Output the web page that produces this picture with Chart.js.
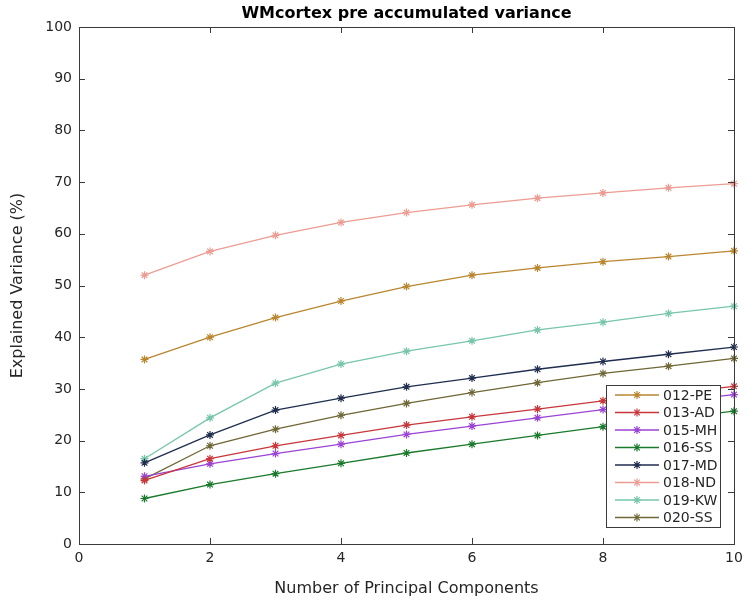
<!DOCTYPE html>
<html>
<head>
<meta charset="utf-8">
<script src="https://cdn.jsdelivr.net/npm/chart.js@4.4.1/dist/chart.umd.min.js"></script>
<style>
  html, body { margin: 0; padding: 0; background: #fff; }
  #wrap { width: 746px; height: 601px; }
</style>
</head>
<body>
<div id="wrap"><canvas id="c" width="746" height="601"></canvas></div>
<script>
// Number of principal components on the x axis
const components = [1, 2, 3, 4, 5, 6, 7, 8, 9, 10];

// Accumulated explained variance (%) per subject
const pe012 = [35.7, 40.0, 43.8, 47.0, 49.8, 52.0, 53.4, 54.6, 55.6, 56.7];
const ad013 = [12.3, 16.5, 19.0, 21.0, 23.0, 24.6, 26.1, 27.7, 29.1, 30.5];
const mh015 = [13.1, 15.5, 17.5, 19.3, 21.2, 22.8, 24.4, 26.0, 27.5, 28.9];
const ss016 = [8.8, 11.5, 13.6, 15.6, 17.6, 19.3, 21.0, 22.7, 24.2, 25.7];
const md017 = [15.7, 21.1, 25.9, 28.2, 30.4, 32.1, 33.8, 35.3, 36.7, 38.1];
const nd018 = [52.0, 56.6, 59.7, 62.2, 64.1, 65.6, 66.9, 67.9, 68.9, 69.7];
const kw019 = [16.5, 24.4, 31.1, 34.8, 37.3, 39.3, 41.4, 42.9, 44.6, 46.0];
const ss020 = [12.6, 19.0, 22.2, 24.9, 27.2, 29.3, 31.2, 33.0, 34.4, 35.9];

const seriesLabels = ['012-PE', '013-AD', '015-MH', '016-SS', '017-MD', '018-ND', '019-KW', '020-SS'];
const seriesValues = [pe012, ad013, mh015, ss016, md017, nd018, kw019, ss020];
const seriesColors = ['#b9862f', '#c9363a', '#9a43d4', '#1a7a2b', '#1f2d4f', '#ec9c92', '#77c6aa', '#6f6736'];

const xTicks = [0, 2, 4, 6, 8, 10];
const yTicks = [0, 10, 20, 30, 40, 50, 60, 70, 80, 90, 100];

const FONT = 'DejaVu Sans';
const AXIS = '#3a3a3a';
const TEXT = '#262626';

const datasets = seriesLabels.map((lab, i) => ({
  label: lab,
  data: components.map((c, j) => ({ x: c, y: seriesValues[i][j] })),
  borderColor: seriesColors[i],
  backgroundColor: seriesColors[i],
  borderWidth: 1.3,
  pointStyle: 'star',
  pointRadius: 4,
  pointBorderWidth: 1.2,
  pointHoverRadius: 4,
  tension: 0,
  fill: false,
  clip: false
}));

// Box around the plot area with inward ticks on all four sides, plus title and legend
const boxPlugin = {
  id: 'boxTicks',
  afterDraw(chart) {
    const { ctx, chartArea: a, scales } = chart;
    ctx.save();
    ctx.strokeStyle = AXIS;
    ctx.lineWidth = 1;
    ctx.strokeRect(Math.round(a.left) + 0.5, Math.round(a.top) + 0.5,
                   Math.round(a.right - a.left), Math.round(a.bottom - a.top));
    const L = 6;
    ctx.beginPath();
    xTicks.forEach(v => {
      const px = Math.round(scales.x.getPixelForValue(v)) + 0.5;
      ctx.moveTo(px, a.bottom); ctx.lineTo(px, a.bottom - L);
      ctx.moveTo(px, a.top); ctx.lineTo(px, a.top + L);
    });
    yTicks.forEach(v => {
      const py = Math.round(scales.y.getPixelForValue(v)) + 0.5;
      ctx.moveTo(a.left, py); ctx.lineTo(a.left + L, py);
      ctx.moveTo(a.right, py); ctx.lineTo(a.right - L, py);
    });
    ctx.stroke();

    // Title
    ctx.fillStyle = '#000';
    ctx.font = 'bold 16px "' + FONT + '"';
    ctx.textAlign = 'center';
    ctx.textBaseline = 'middle';
    ctx.fillText('WMcortex pre accumulated variance', (a.left + a.right) / 2, 14);

    // Legend inside the lower-right corner
    const bx = 606, by = 385, bw = 114, bh = 142, rowH = 17.5;
    ctx.fillStyle = '#fff';
    ctx.fillRect(bx, by, bw, bh);
    ctx.strokeStyle = AXIS;
    ctx.strokeRect(bx + 0.5, by + 0.5, bw, bh);
    ctx.font = '14px "' + FONT + '"';
    ctx.textAlign = 'left';
    chart.data.datasets.forEach((ds, i) => {
      const y = by + 10 + i * rowH;
      ctx.strokeStyle = ds.borderColor;
      ctx.lineWidth = 1.3;
      ctx.beginPath();
      ctx.moveTo(bx + 9, y); ctx.lineTo(bx + 53, y);
      ctx.stroke();
      // asterisk marker
      const cx = bx + 31, r = 4;
      ctx.lineWidth = 1.2;
      ctx.beginPath();
      ctx.moveTo(cx - r, y); ctx.lineTo(cx + r, y);
      ctx.moveTo(cx, y - r); ctx.lineTo(cx, y + r);
      const d = r * 0.707;
      ctx.moveTo(cx - d, y - d); ctx.lineTo(cx + d, y + d);
      ctx.moveTo(cx - d, y + d); ctx.lineTo(cx + d, y - d);
      ctx.stroke();
      ctx.fillStyle = TEXT;
      ctx.fillText(ds.label, bx + 57, y + 1);
    });
    ctx.restore();
  }
};

new Chart(document.getElementById('c'), {
  type: 'line',
  data: { datasets },
  options: {
    responsive: false,
    animation: false,
    events: [],
    layout: { padding: { left: 0, right: 12, top: 27, bottom: 0 } },
    plugins: {
      legend: { display: false },
      title: { display: false },
      tooltip: { enabled: false }
    },
    scales: {
      x: {
        type: 'linear',
        min: 0, max: 10,
        afterBuildTicks(s) { s.ticks = xTicks.map(v => ({ value: v })); },
        afterFit(s) { s.height = 57; s.paddingLeft = 0; s.paddingRight = 0; },
        grid: { display: true, drawOnChartArea: false, drawTicks: false, color: 'rgba(0,0,0,0)' },
        border: { display: false },
        ticks: { color: TEXT, font: { family: FONT, size: 14 }, padding: 6, maxRotation: 0 },
        title: { display: true, text: 'Number of Principal Components', color: TEXT,
                 font: { family: FONT, size: 16 }, padding: { top: 0, bottom: 3 } }
      },
      y: {
        type: 'linear',
        min: 0, max: 100,
        afterBuildTicks(s) { s.ticks = yTicks.map(v => ({ value: v })); },
        afterFit(s) { s.width = 79; s.paddingTop = 0; s.paddingBottom = 0; },
        grid: { display: true, drawOnChartArea: false, drawTicks: false, color: 'rgba(0,0,0,0)' },
        border: { display: false },
        ticks: { color: TEXT, font: { family: FONT, size: 14 }, padding: 7 },
        title: { display: true, text: 'Explained Variance (%)', color: TEXT,
                 font: { family: FONT, size: 16 }, padding: { top: 8, bottom: 0 } }
      }
    }
  },
  plugins: [boxPlugin]
});
</script>
</body>
</html>
